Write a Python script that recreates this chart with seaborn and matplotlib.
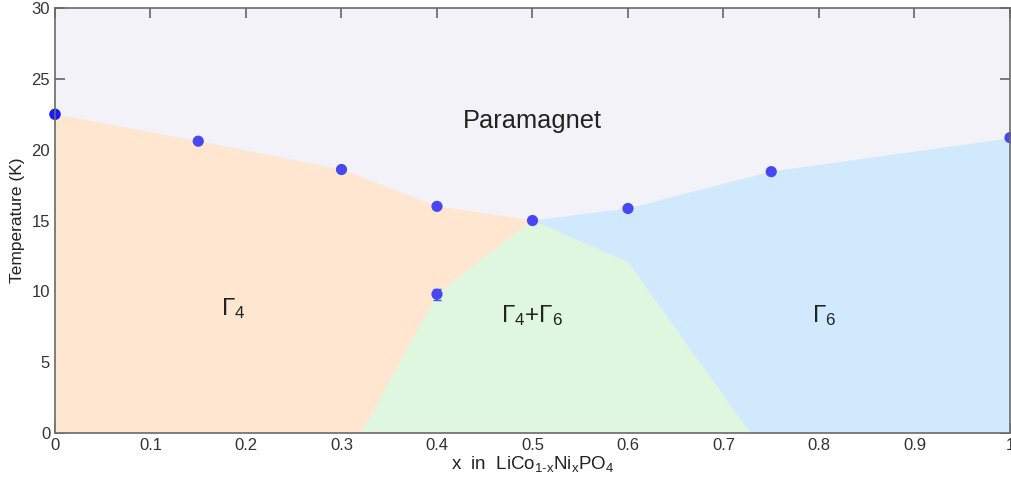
import numpy as np
import pandas as pd
import matplotlib
matplotlib.use("Agg")
import matplotlib.pyplot as plt
import seaborn as sns

# Data
x_points = [0.0, 0.15, 0.30, 0.40, 0.40, 0.50, 0.60, 0.75, 1.00]
t_points = [22.5, 20.6, 18.6, 16.0, 9.8, 15.0, 15.85, 18.45, 20.85]
t_err = [0.0, 0.0, 0.0, 0.0, 0.4, 0.0, 0.0, 0.0, 0.0]

# Phase boundaries
para_x = [0.0, 0.15, 0.30, 0.40, 0.50, 0.60, 0.75, 1.00]
para_t = [22.5, 20.6, 18.6, 16.0, 15.0, 15.85, 18.45, 20.8]
g4_x = [0.50, 0.40, 0.321]
g4_t = [15.0, 9.8, 0.0]
g6_x = [0.50, 0.60, 0.728]
g6_t = [15.0, 12.05, 0.0]

x_ticks = [0, 0.1, 0.2, 0.3, 0.4, 0.5, 0.6, 0.7, 0.8, 0.9, 1]
x_ticklabels = ["0", "0.1", "0.2", "0.3", "0.4", "0.5", "0.6", "0.7", "0.8", "0.9", "1"]
y_ticks = [0, 5, 10, 15, 20, 25, 30]

sns.set_theme(style="white")
plt.rcParams['font.family'] = ['Liberation Sans', 'DejaVu Sans']
plt.rcParams['mathtext.fontset'] = 'custom'
plt.rcParams['mathtext.rm'] = 'Liberation Sans'
plt.rcParams['mathtext.it'] = 'Liberation Sans'

fig = plt.figure(figsize=(10.11, 4.86), dpi=100)
ax = fig.add_axes([0.0544, 0.109, 0.9446, 0.8745])

c_para = "#f3f2f9"
c_g4 = "#fee6d0"
c_g46 = "#dff6df"
c_g6 = "#d0e9fd"

# paramagnet region (whole background)
ax.fill([0, 1, 1, 0], [0, 0, 30, 30], color=c_para, lw=0, zorder=0)
# Gamma4 region
poly_x = [0.0] + para_x[:5] + g4_x[1:] + [0.0]
poly_t = [0.0] + para_t[:5] + g4_t[1:] + [0.0]
ax.fill(poly_x, poly_t, color=c_g4, lw=0, zorder=1)
# Gamma6 region
poly_x = para_x[4:] + [1.0] + g6_x[::-1]
poly_t = para_t[4:] + [0.0] + g6_t[::-1]
ax.fill(poly_x, poly_t, color=c_g6, lw=0, zorder=1)
# Gamma4+Gamma6 region
poly_x = g4_x + g6_x[::-1]
poly_t = g4_t + g6_t[::-1]
ax.fill(poly_x, poly_t, color=c_g46, lw=0, zorder=1)

df = pd.DataFrame({"x": x_points, "T": t_points, "err": t_err})
ax.errorbar(df["x"], df["T"], yerr=df["err"], fmt="none", ecolor="#4a4af0",
            elinewidth=1.5, capsize=3, zorder=3)
sns.scatterplot(data=df, x="x", y="T", ax=ax, color="#4848f2", s=65,
                edgecolor="none", zorder=4, clip_on=False)
ax.scatter([0.0], [22.5], color="#1a1aff", s=65, zorder=5, clip_on=False, edgecolor="none")

ax.set_xlim(0, 1)
ax.set_ylim(0, 30)
ax.set_xticks(x_ticks)
ax.set_xticklabels(x_ticklabels)
ax.set_yticks(y_ticks)
ax.tick_params(direction="in", length=7.5, width=1.2, colors="#666666", labelsize=12,
               top=True, right=True, bottom=True, left=True, pad=3.5)
for tl in ax.get_xticklabels() + ax.get_yticklabels():
    tl.set_color("#333333")
for sp in ax.spines.values():
    sp.set_color("#6a6a6a")
    sp.set_linewidth(1.2)
    sp.set_zorder(6)

ax.set_xlabel("x  in  LiCo$_{1\u2010x}$Ni$_x$PO$_4$", fontsize=13.5, color="#222222", labelpad=1)
ax.set_ylabel("Temperature (K)", fontsize=12.5, color="#222222", labelpad=5)

ax.text(0.5, 22.0, "Paramagnet", fontsize=18.3, ha="center", va="center", color="#222222")
ax.text(0.187, 8.8, "Γ$_4$", fontsize=17.5, ha="center", va="center", color="#222222")
ax.text(0.5, 8.3, "Γ$_4$+Γ$_6$", fontsize=17.5, ha="center", va="center", color="#222222")
ax.text(0.805, 8.3, "Γ$_6$", fontsize=17.5, ha="center", va="center", color="#222222")

fig.savefig("out.png", dpi=100)
